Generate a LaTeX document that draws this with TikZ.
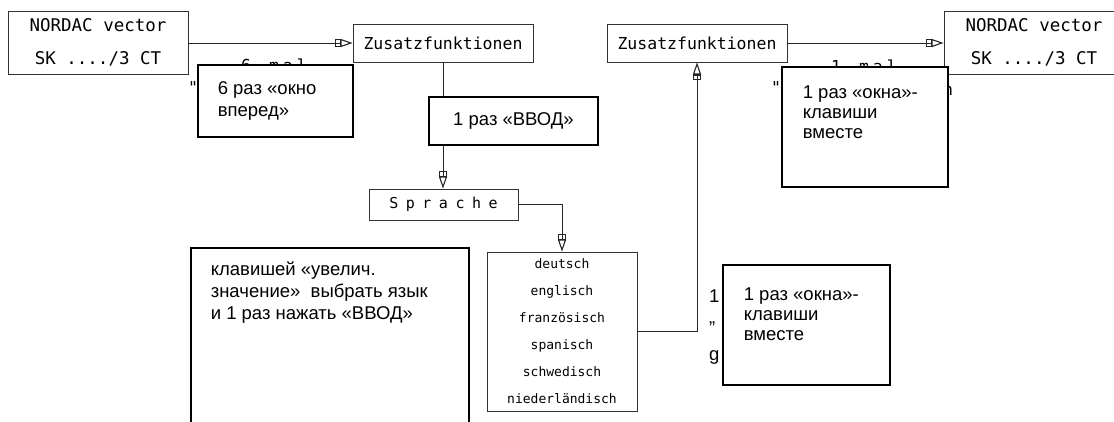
\documentclass[tikz,border=0pt]{standalone}
\usepackage{fontspec}
\setmainfont{Liberation Sans}
\newfontfamily\cad{DejaVu Sans Mono}
\usetikzlibrary{arrows.meta}
\makeatletter
\newcommand\spreadtext[2]{\def\spr@k{#1}\@tfor\spr@c:=#2\do{\spr@c\kern\spr@k}\kern-\spr@k}
\makeatother
% #1 width, #2 height, #3 left margin, #4 first baseline, #5 baselineskip, #6 text
\newcommand\notepar[6]{\parbox[c][#2][t]{#1}{\raggedright\setlength\leftskip{#3}\fontsize{18.5}{#5}\selectfont\rule{0pt}{#4}#6}}
\begin{document}
\begin{tikzpicture}[x=1pt,y=-1pt,
  cadbox/.style={draw=black!80, line width=0.8pt, fill=white, inner sep=0pt, align=center},
  notebox/.style={draw=black, line width=1.6pt, fill=white, inner sep=0pt},
  frag/.style={inner sep=0pt},
  cadarrow/.style={draw=black!85, line width=0.9pt, -{Rectangle[open,length=6pt,width=8pt,line width=1.1pt]Triangle[open,length=12pt,width=8pt,line width=1.1pt]}}]
\clip (0,0) rectangle (1114,421);
\fill[white] (0,0) rectangle (1114,421);

% partly hidden fragments (behind the note boxes)
\node[frag, anchor=base, font=\cad\fontsize{16.5}{16.5}\selectfont] (fa) at (274,71) {\spreadtext{4pt}{6\space mal}};
\node[frag, font=\cad\fontsize{16.5}{16.5}\selectfont] (fb) at (193,87) {"};
\node[frag, anchor=base, font=\cad\fontsize{16.5}{16.5}\selectfont] (fc) at (864,72) {\spreadtext{4pt}{1\space mal}};
\node[frag, font=\cad\fontsize{16.5}{16.5}\selectfont] (fd) at (776,87) {"};
\node[frag, font=\cad\fontsize{16.5}{16.5}\selectfont] (fe) at (948,91) {n};
\node[frag, anchor=base west, font=\fontsize{18.5}{18.5}\selectfont] (ff) at (709,302) {1};
\node[frag, anchor=base west, font=\fontsize{18.5}{18.5}\selectfont] (fg) at (709,323) {„};
\node[frag, anchor=base west, font=\fontsize{18.5}{18.5}\selectfont] (fh) at (709,360) {g};

% CAD boxes
\node[cadbox, minimum width=180, minimum height=63, font=\cad\fontsize{17.5}{33}\selectfont] (nordL) at (98,42.5) {NORDAC vector\\SK ..../3 CT};
\node[cadbox, minimum width=180, minimum height=38, font=\cad\fontsize{16.5}{20}\selectfont] (zusL) at (443,43) {Zusatzfunktionen};
\node[cadbox, minimum width=149, minimum height=31, font=\cad\fontsize{15}{18}\selectfont] (spr) at (443.5,204.5) {\spreadtext{7.5pt}{Sprache}};
\node[cadbox, minimum width=150, minimum height=159, font=\cad\fontsize{13}{27}\selectfont] (lang) at (562,331.5) {deutsch\\englisch\\französisch\\spanisch\\schwedisch\\niederländisch};
\node[cadbox, minimum width=180, minimum height=38, font=\cad\fontsize{16.5}{20}\selectfont] (zusR) at (697,43) {Zusatzfunktionen};
\node[cadbox, minimum width=180, minimum height=63, font=\cad\fontsize{17.5}{33}\selectfont] (nordR) at (1034,42.5) {NORDAC vector\\SK ..../3 CT};

% connectors
\draw[cadarrow] (nordL.east|-zusL.west) -- (zusL.west);
\draw[cadarrow] (zusL.south) -- (zusL.south|-spr.north);
\draw[cadarrow] (spr.east) -| (lang.north);
\draw[cadarrow] (lang.east) -| (zusR.south);
\draw[cadarrow] (zusR.east) -- (nordR.west|-zusR.east);

% note boxes
\node[notebox, anchor=north west] (n6) at (197,64) {\notepar{155pt}{72pt}{20pt}{30pt}{22pt}{6 раз «окно\\вперед»}};
\node[notebox, minimum width=169, minimum height=48, font=\fontsize{18.5}{21}\selectfont] (vvod) at (513.5,121) {1 раз «ВВОД»};
\node[notebox, anchor=north west] (m1) at (781,66) {\notepar{166pt}{120pt}{21pt}{32pt}{20pt}{1 раз «окна»-\\клавиши\\вместе}};
\node[notebox, anchor=north west] (big) at (190,247) {\notepar{278pt}{200pt}{20pt}{28pt}{22pt}{клавишей «увелич.\\значение»\ \ выбрать язык\\и 1 раз нажать «ВВОД»}};
\node[notebox, anchor=north west] (m2) at (722,264) {\notepar{167pt}{120pt}{21pt}{36pt}{20pt}{1 раз «окна»-\\клавиши\\вместе}};
\end{tikzpicture}
\end{document}
